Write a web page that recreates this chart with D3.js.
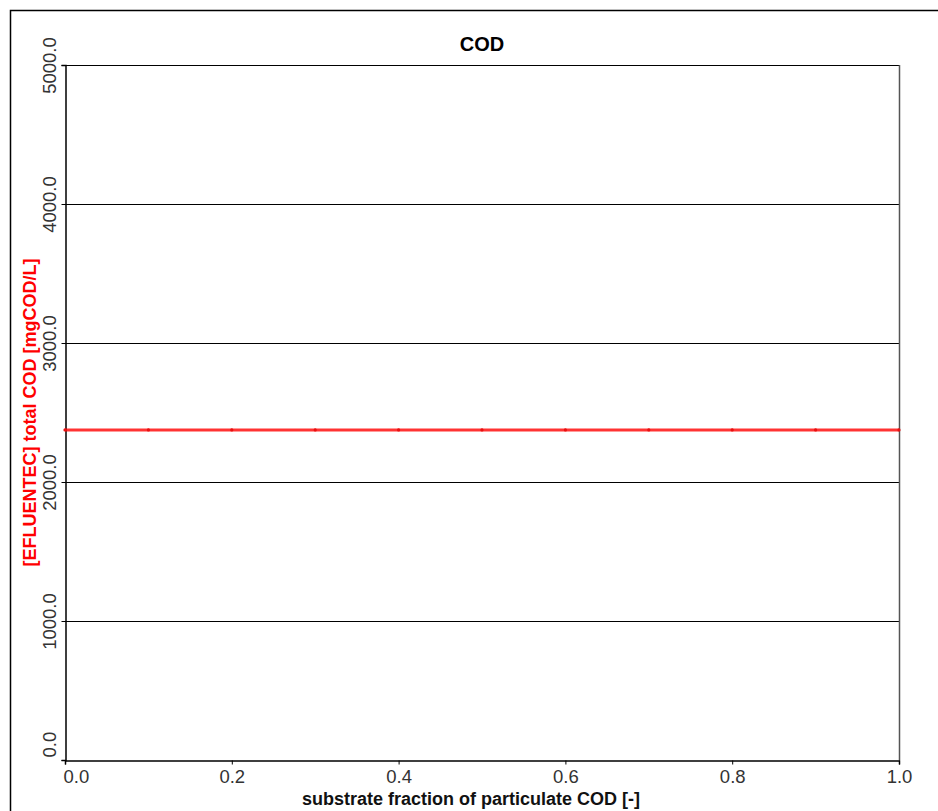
<!DOCTYPE html>
<html lang="en">
    <head>
        <meta charset="utf-8">
        <title>COD</title>
        <script type="text/javascript" src="https://cdn.jsdelivr.net/npm/d3@7"></script>
        <style type="text/css">
            body { margin: 0; background: #fff; }
            text { font-family: "Liberation Sans", Arial, sans-serif; }
        </style>
    </head>

    <body>
        <script type="text/javascript">
            // Data
            var fraction = [0.0, 0.1, 0.2, 0.3, 0.4, 0.5, 0.6, 0.7, 0.8, 0.9, 1.0];
            var totalCOD = [2375, 2375, 2375, 2375, 2375, 2375, 2375, 2375, 2375, 2375, 2375];
            var xTicks = [0.0, 0.2, 0.4, 0.6, 0.8, 1.0];
            var yTicks = [0, 1000, 2000, 3000, 4000, 5000];

            var w = 938;
            var h = 811;
            var margin = { left: 65, top: 65, right: 39, bottom: 51 };

            var svg = d3.select("body")
                        .append("svg")
                        .attr("width", w)
                        .attr("height", h);

            // outer frame
            svg.append("rect")
                .attr("x", 10.5)
                .attr("y", 10.5)
                .attr("width", w)
                .attr("height", h)
                .attr("fill", "none")
                .attr("stroke", "#000")
                .attr("stroke-width", 1.5);

            var x = d3.scaleLinear()
                      .domain([0, 1])
                      .range([margin.left, w - margin.right]);
            var y = d3.scaleLinear()
                      .domain([0, 5000])
                      .range([h - margin.bottom, margin.top]);

            // horizontal grid lines
            svg.selectAll("line.grid")
                .data(yTicks.slice(1, -1))
                .enter()
                .append("line")
                .attr("class", "grid")
                .attr("x1", x(0))
                .attr("x2", x(1))
                .attr("y1", function(d) { return Math.round(y(d)) + 0.5; })
                .attr("y2", function(d) { return Math.round(y(d)) + 0.5; })
                .attr("stroke", "#000")
                .attr("stroke-width", 1.2);

            // top and right borders of plot
            svg.append("line")
                .attr("x1", x(0)).attr("x2", x(1))
                .attr("y1", y(5000) + 0.5).attr("y2", y(5000) + 0.5)
                .attr("stroke", "#000").attr("stroke-width", 1.2);
            svg.append("line")
                .attr("x1", x(1) + 0.5).attr("x2", x(1) + 0.5)
                .attr("y1", y(5000)).attr("y2", y(0))
                .attr("stroke", "#555").attr("stroke-width", 1.5);

            // x axis
            var xAxis = d3.axisBottom(x)
                          .tickValues(xTicks)
                          .tickSize(4)
                          .tickFormat(d3.format(".1f"));
            var gx = svg.append("g")
                        .attr("transform", "translate(0," + (y(0) + 0.5) + ")")
                        .call(xAxis);
            gx.select(".domain").attr("stroke", "#000").attr("stroke-width", 1.5);
            gx.selectAll(".tick text")
                .style("font-size", "18.5px")
                .attr("fill", "#333")
                .attr("y", 22)
                .attr("dy", null)
                .attr("text-anchor", function(d) { return d === 0 ? "start" : "middle"; })
                .attr("dx", function(d) { return d === 0 ? -2 : 0; });

            // y axis
            var yAxis = d3.axisLeft(y)
                          .tickValues(yTicks)
                          .tickSize(4)
                          .tickFormat(d3.format(".1f"));
            var gy = svg.append("g")
                        .attr("transform", "translate(" + (x(0) + 0.5) + ",0)")
                        .call(yAxis);
            gy.select(".domain").attr("stroke", "#000").attr("stroke-width", 1.5);
            gy.selectAll(".tick text")
                .style("font-size", "18.5px")
                .attr("fill", "#333")
                .attr("x", null)
                .attr("dy", null)
                .attr("transform", "translate(-10,0) rotate(-90)")
                .attr("text-anchor", function(d) { return d === 0 ? "start" : "middle"; })
                .attr("dx", function(d) { return d === 0 ? 3 : 0; });

            // red series
            var line = d3.line()
                         .x(function(d, i) { return x(fraction[i]); })
                         .y(function(d) { return y(d); });
            svg.append("path")
                .datum(totalCOD)
                .attr("d", line)
                .attr("fill", "none")
                .attr("stroke", "#ff0000")
                .attr("stroke-width", 3)
                .attr("stroke-opacity", 0.8);
            svg.selectAll("circle.pt")
                .data(totalCOD)
                .enter()
                .append("circle")
                .attr("class", "pt")
                .attr("cx", function(d, i) { return x(fraction[i]); })
                .attr("cy", function(d) { return y(d); })
                .attr("r", 1.6)
                .attr("fill", "#e81010");

            // titles
            svg.append("text")
                .attr("x", (x(0) + x(1)) / 2)
                .attr("y", 51)
                .attr("text-anchor", "middle")
                .style("font-size", "20px")
                .attr("font-weight", "bold")
                .text("COD");

            svg.append("text")
                .attr("x", (x(0) + x(1)) / 2 - 11)
                .attr("y", 805)
                .attr("text-anchor", "middle")
                .style("font-size", "18px")
                .attr("font-weight", "bold")
                .attr("fill", "#111")
                .text("substrate fraction of particulate COD [-]");

            svg.append("text")
                .attr("transform", "translate(36," + ((y(0) + y(5000)) / 2) + ") rotate(-90)")
                .attr("text-anchor", "middle")
                .style("font-size", "18px")
                .attr("font-weight", "bold")
                .attr("fill", "#ff0000")
                .text("[EFLUENTEC] total COD [mgCOD/L]");
        </script>
    </body>
</html>
